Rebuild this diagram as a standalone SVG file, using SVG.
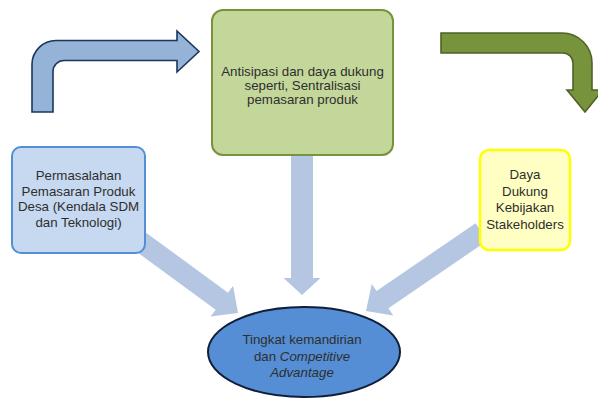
<svg xmlns="http://www.w3.org/2000/svg" width="598" height="401" viewBox="0 0 598 401">
<style>
.t{font-family:"Liberation Sans",Arial,sans-serif;font-size:13.3px;fill:#2e2e2e;text-anchor:middle}
.wide{fill:#b4c6e1}
</style>
<rect width="598" height="401" fill="#fff"/>
<g id="connectors">
<path d="M32,112 L32,64 A24,24 0 0 1 56,40.5 L177,40.5 L177,31 L199,51.5 L177,72 L177,60.5 L64,60.5 A11,11 0 0 0 53,71.5 L53,112 Z" fill="#95b3d7" stroke="#17375e" stroke-width="1.6" stroke-linejoin="miter"/>
<path d="M441,33 L562,33 A30,30 0 0 1 592,63 L592,90 L603,90 L585,112 L567,90 L573,90 L573,63 A10,10 0 0 0 563,53 L441,53 Z" fill="#77933c" stroke="#4f6228" stroke-width="1.6"/>
<path class="wide" transform="translate(238,313) rotate(36.2)" d="M0,0 L-20,-19 L-20,-10.5 L-125,-10.5 L-125,10.5 L-20,10.5 L-20,19 Z"/>
<path class="wide" transform="translate(302,295) rotate(90)" d="M0,0 L-17,-18.5 L-17,-11 L-145,-11 L-145,11 L-17,11 L-17,18.5 Z"/>
<path class="wide" transform="translate(366,311) rotate(145.6)" d="M0,0 L-20,-19 L-20,-10.5 L-140,-10.5 L-140,10.5 L-20,10.5 L-20,19 Z"/>
</g>
<g id="node-antisipasi">
<rect x="212" y="10" width="181" height="145" rx="11" fill="#c4d79b" stroke="#77933c" stroke-width="2"/>
<text class="t" x="302.5" y="76">Antisipasi dan daya dukung</text>
<text class="t" x="302.5" y="90">seperti, Sentralisasi</text>
<text class="t" x="302.5" y="104">pemasaran produk</text>
</g>
<g id="node-permasalahan">
<rect x="12" y="147" width="133" height="106" rx="9" fill="#c6d9f1" stroke="#558ed5" stroke-width="2"/>
<text class="t" x="78.5" y="180">Permasalahan</text>
<text class="t" x="78.5" y="195.5">Pemasaran Produk</text>
<text class="t" x="78.5" y="211">Desa (Kendala SDM</text>
<text class="t" x="78.5" y="226.5">dan Teknologi)</text>
</g>
<g id="node-daya">
<rect x="480" y="150" width="90" height="100" rx="9" fill="#ffffc4" stroke="#ffff00" stroke-width="2.5"/>
<text class="t" x="525" y="179">Daya</text>
<text class="t" x="525" y="195.5">Dukung</text>
<text class="t" x="525" y="212">Kebijakan</text>
<text class="t" x="525" y="228.5">Stakeholders</text>
</g>
<g id="node-tingkat">
<ellipse cx="304" cy="352" rx="96" ry="45" fill="#558ed5" stroke="#0f1f3a" stroke-width="2"/>
<text class="t" x="302" y="344">Tingkat kemandirian</text>
<text class="t" x="302" y="360.5">dan <tspan font-style="italic">Competitive</tspan></text>
<text class="t" x="302" y="377" font-style="italic">Advantage</text>
</g>
</svg>
